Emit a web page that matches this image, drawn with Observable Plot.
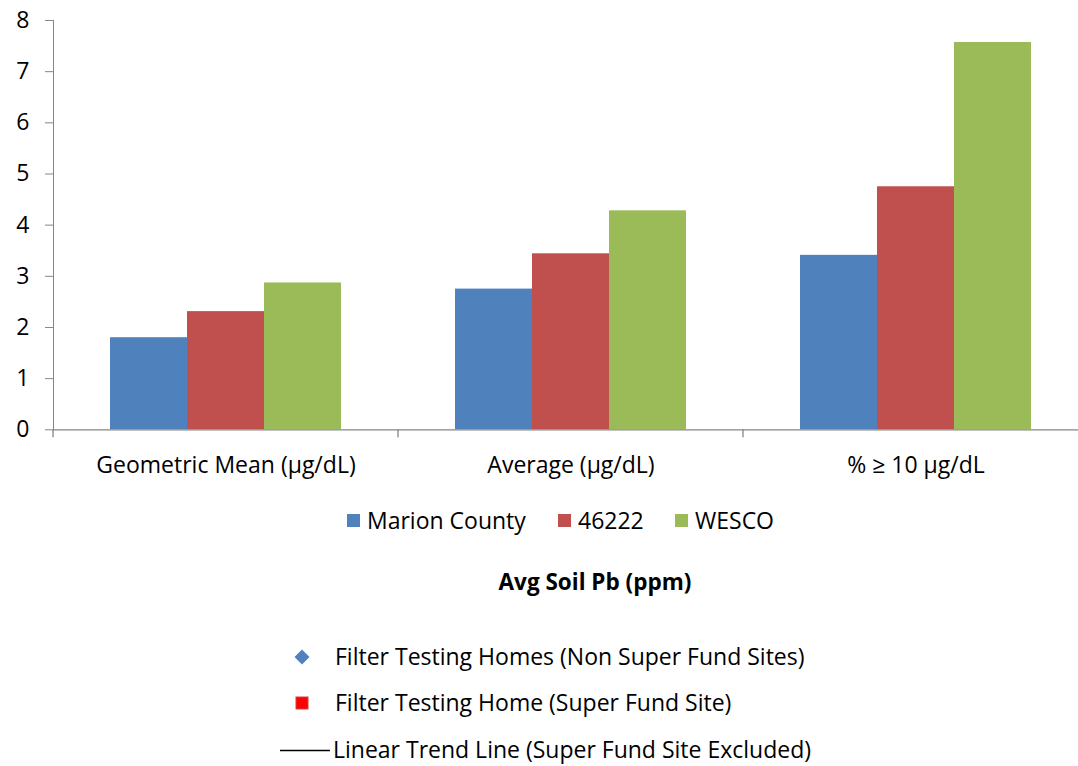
<!DOCTYPE html>
<html>
<head>
<meta charset="utf-8">
<script src="https://cdn.jsdelivr.net/npm/d3@7"></script>
<script src="https://cdn.jsdelivr.net/npm/@observablehq/plot@0.6"></script>
<style>
  html, body { margin: 0; padding: 0; background: #fff; overflow: hidden; }
  #wrap { position: relative; width: 1078px; height: 766px; font-family: "Open Sans", sans-serif; color: #000; }
  #chart svg text { fill: #000; }
  .abs { position: absolute; white-space: nowrap; line-height: 1; }
  .item { font-size: 23px; display: flex; align-items: center; }
  .swatch { width: 13px; height: 13px; margin-right: 7px; }
  .title { font-weight: bold; font-size: 22.5px; text-align: center; }
</style>
</head>
<body>
<div id="wrap">
  <div id="chart"></div>
</div>
<script>
// Blood lead summary statistics by area
const categories = ["Geometric Mean (µg/dL)", "Average (µg/dL)", "% ≥ 10 µg/dL"];
const series = ["Marion County", "46222", "WESCO"];
const marionCounty = [1.80, 2.75, 3.41];
const zip46222 = [2.31, 3.44, 4.75];
const wesco = [2.87, 4.28, 7.57];
const seriesColors = ["#4F81BD", "#C0504D", "#9BBB59"];
const yTicks = [0, 1, 2, 3, 4, 5, 6, 7, 8];

// Second legend (soil lead scatter key)
const soilTitle = "Avg Soil Pb (ppm)";
const soilKeys = [
  {label: "Filter Testing Homes (Non Super Fund Sites)", symbol: "diamond"},
  {label: "Filter Testing Home (Super Fund Site)", symbol: "square"},
  {label: "Linear Trend Line (Super Fund Site Excluded)", symbol: "line"}
];

const seriesValues = [marionCounty, zip46222, wesco];
const rows = categories.flatMap((category, i) =>
  series.map((name, j) => ({category, series: name, value: seriesValues[j][i]}))
);

const chart = Plot.plot({
  width: 1078,
  height: 490,
  marginTop: 20,
  marginBottom: 60.7,
  marginLeft: 53,
  marginRight: 0,
  style: {fontFamily: "Open Sans", fontSize: "23px", color: "#868686", background: "white", overflow: "visible"},
  facet: {data: rows, x: "category"},
  fx: {domain: categories, range: [53, 1088], padding: 0, label: null, axis: "bottom", tickSize: 0, tickPadding: 27},
  x: {domain: series, paddingInner: 0, paddingOuter: 0.74, axis: null},
  y: {domain: [0, 8], ticks: yTicks, tickSize: 8, tickPadding: 16, label: null, line: true},
  color: {domain: series, range: seriesColors},
  marks: [
    Plot.barY(rows, {x: "series", y: "value", fill: "series"}),
    Plot.ruleY([0], {stroke: "#868686", strokeWidth: 1.3})
  ]
});
document.getElementById("chart").appendChild(chart);

// Category divider ticks below the baseline, at each band's edge
const fxInfo = chart.scale("fx");
const band = d3.scaleBand().domain(fxInfo.domain).range(fxInfo.range).padding(0);
const yInfo = chart.scale("y");
const y0 = yInfo.apply ? yInfo.apply(0) : 429.3;
const edges = categories.map(c => band(c)).concat([band.range()[1]]);
d3.select(chart).append("g")
  .selectAll("line").data(edges).join("line")
  .attr("x1", d => d).attr("x2", d => d)
  .attr("y1", y0).attr("y2", y0 + 8)
  .attr("stroke", "#868686").attr("stroke-width", 1.3);

const wrap = d3.select("#wrap");

// Series legend
const legendLeft = [347, 558, 675];
series.forEach((name, i) => {
  const item = wrap.append("div").attr("class", "abs item")
    .style("left", legendLeft[i] + "px").style("top", "509px");
  item.append("div").attr("class", "swatch").style("background", seriesColors[i]);
  item.append("span").text(name);
});

// Soil legend title
wrap.append("div").attr("class", "abs title")
  .style("left", "445px").style("width", "300px").style("top", "571px")
  .text(soilTitle);

// Soil legend entries
const rowTops = [657, 703, 750];
soilKeys.forEach((k, i) => {
  const cy = rowTops[i];
  const svg = wrap.append("svg").attr("class", "abs")
    .style("left", "278px").style("top", (cy - 10) + "px")
    .attr("width", 56).attr("height", 20);
  if (k.symbol === "diamond") {
    svg.append("path").attr("d", "M24,2.5 L31.5,10 L24,17.5 L16.5,10 Z").attr("fill", "#4F81BD");
  } else if (k.symbol === "square") {
    svg.append("rect").attr("x", 18).attr("y", 4).attr("width", 12).attr("height", 12)
      .attr("fill", "#FF0000").attr("stroke", "#D04040").attr("stroke-width", 1);
  } else {
    svg.append("line").attr("x1", 2).attr("x2", 52).attr("y1", 10.5).attr("y2", 10.5)
      .attr("stroke", "#000").attr("stroke-width", 1.3);
  }
  wrap.append("div").attr("class", "abs item")
    .style("left", (k.symbol === "line" ? 333 : 335) + "px")
    .style("top", (cy - 12) + "px")
    .text(k.label);
});
</script>
</body>
</html>
